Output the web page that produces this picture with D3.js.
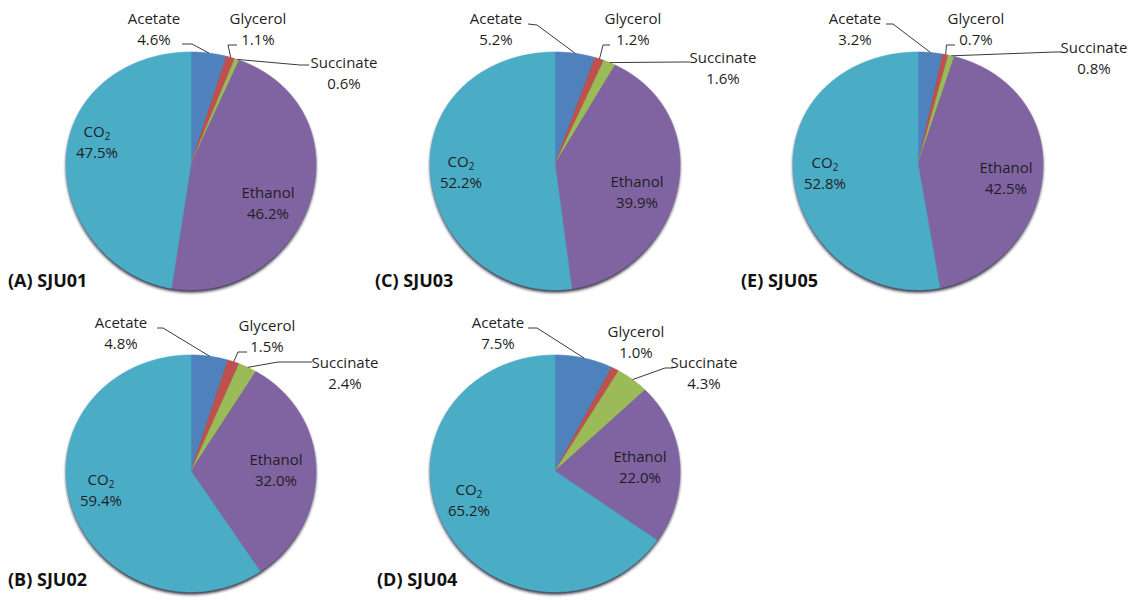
<!DOCTYPE html>
<html>
<head>
<meta charset="utf-8">
<script src="https://cdn.jsdelivr.net/npm/d3@7"></script>
<style>
  html, body { margin: 0; background: #fff; }
  svg { display: block; }
</style>
</head>
<body>
<svg id="chart" width="1137" height="600"></svg>
<script>
// Fermentation product distribution (% of carbon) per strain
const categories = ["Acetate", "Glycerol", "Succinate", "Ethanol", "CO2"];
const samples = ["(A) SJU01", "(B) SJU02", "(C) SJU03", "(D) SJU04", "(E) SJU05"];
const acetate   = [4.6, 4.8, 5.2, 7.5, 3.2];
const glycerol  = [1.1, 1.5, 1.2, 1.0, 0.7];
const succinate = [0.6, 2.4, 1.6, 4.3, 0.8];
const ethanol   = [46.2, 32.0, 39.9, 22.0, 42.5];
const co2       = [47.5, 59.4, 52.2, 65.2, 52.8];

const colors = ["#4f81bd", "#c0504d", "#9bbb59", "#8064a2", "#4bacc6"];

// Panel placement: pie centre, radii (horizontal, upper, lower), title spot,
// and for each category the label anchor (centre x, first baseline) plus
// the leader-line bend points (leader starts on the slice rim).
const panelLayout = [
  { cx: 191, cy: 164, rx: 125, up: 112, down: 126, title: [8, 287],
    labels: [
      { x: 154, y: 24, leader: [[192, 44], [182, 44]] },
      { x: 258, y: 24, leader: [[228, 45], [237, 45]] },
      { x: 344, y: 68, leader: [[300, 65], [309, 65]] },
      { x: 268, y: 198 },
      { x: 97,  y: 137 }
    ] },
  { cx: 191, cy: 471, rx: 125, up: 116, down: 121, title: [8, 586],
    labels: [
      { x: 121, y: 328, leader: [[163, 328], [157, 328]] },
      { x: 267, y: 331, leader: [[238, 352], [247, 352]] },
      { x: 345, y: 368, leader: [[278, 362], [312, 362]] },
      { x: 276, y: 465 },
      { x: 101, y: 485 }
    ] },
  { cx: 555, cy: 164, rx: 125, up: 112, down: 126, title: [375, 287],
    labels: [
      { x: 496, y: 24, leader: [[537, 25], [528, 24]] },
      { x: 633, y: 24, leader: [[603, 45], [610, 45]] },
      { x: 723, y: 63, leader: [[680, 62], [690, 62]] },
      { x: 637, y: 187 },
      { x: 461, y: 167 }
    ] },
  { cx: 555, cy: 471, rx: 125, up: 116, down: 121, title: [377, 586],
    labels: [
      { x: 498, y: 328, leader: [[537, 328], [528, 328]] },
      { x: 636, y: 337 },
      { x: 704, y: 368, leader: [[665, 368], [673, 368]] },
      { x: 640, y: 462 },
      { x: 469, y: 495 }
    ] },
  { cx: 918, cy: 164, rx: 125, up: 112, down: 126, title: [741, 287],
    labels: [
      { x: 855, y: 24, leader: [[893, 24], [886, 24]] },
      { x: 976, y: 24, leader: [[946.5, 45], [955, 45]] },
      { x: 1094, y: 53, leader: [[1055, 52], [1062, 52]] },
      { x: 1006, y: 173 },
      { x: 825, y: 168 }
    ] }
];

const svg = d3.select("#chart");
const fmt = d3.format(".1f");
const labelFont = "'Open Sans', 'DejaVu Sans', sans-serif";

const defs = svg.append("defs");
defs.append("filter").attr("id", "rimShadow")
  .attr("x", "-10%").attr("y", "-10%").attr("width", "120%").attr("height", "130%")
  .append("feGaussianBlur").attr("stdDeviation", 1.6);

const pie = d3.pie().sort(null).value(d => d.value);
const line = d3.line();

// Map an angle (clockwise from 12 o'clock) onto the tilted pie outline.
function rim(p, a, k = 1) {
  const u = Math.sin(a), v = -Math.cos(a);
  const A = (p.up + p.down) / 2, B = (p.down - p.up) / 2;
  return [p.cx + p.rx * u * k, p.cy + (A * v + B * v * v) * k];
}

function arcPoints(p, a0, a1) {
  const n = Math.max(2, Math.ceil((a1 - a0) / 0.01));
  return d3.range(n + 1).map(i => rim(p, a0 + (a1 - a0) * i / n));
}

samples.forEach((name, i) => {
  const p = panelLayout[i];
  const values = [acetate[i], glycerol[i], succinate[i], ethanol[i], co2[i]];
  const data = categories.map((c, j) => ({ cat: c, value: values[j], color: colors[j], lay: p.labels[j] }));
  const arcs = pie(data);
  const g = svg.append("g");

  // soft dark rim under the lower edge
  g.append("path")
    .attr("d", line(arcPoints(p, 0, 2 * Math.PI)) + "Z")
    .attr("transform", "translate(0,2.5)")
    .attr("fill", "#1c1a30")
    .attr("opacity", 0.9)
    .attr("filter", "url(#rimShadow)");

  g.selectAll("path.slice").data(arcs).join("path")
    .attr("class", "slice")
    .attr("d", d => line([[p.cx, p.cy], ...arcPoints(p, d.startAngle, d.endAngle)]) + "Z")
    .attr("fill", d => d.data.color)
    .attr("stroke", d => d.data.color)
    .attr("stroke-width", 0.6);

  // leader lines
  arcs.forEach(d => {
    const lay = d.data.lay;
    if (!lay.leader) return;
    const mid = (d.startAngle + d.endAngle) / 2;
    g.append("path")
      .attr("d", line([rim(p, mid), ...lay.leader]))
      .attr("fill", "none")
      .attr("stroke", "#3a3a3a")
      .attr("stroke-width", 1);
  });

  // two-line labels: name, value
  arcs.forEach(d => {
    const lay = d.data.lay;
    const t1 = g.append("text")
      .attr("x", lay.x).attr("y", lay.y)
      .attr("text-anchor", "middle")
      .attr("font-family", labelFont).attr("font-size", 15)
      .attr("fill", "#1f1f1f");
    if (d.data.cat === "CO2") {
      t1.append("tspan").text("CO");
      t1.append("tspan").attr("font-size", 10).attr("dy", 3).text("2");
    } else {
      t1.text(d.data.cat);
    }
    g.append("text")
      .attr("x", lay.x).attr("y", lay.y + 21)
      .attr("text-anchor", "middle")
      .attr("font-family", labelFont).attr("font-size", 15)
      .attr("fill", "#1f1f1f")
      .text(fmt(d.data.value) + "%");
  });

  g.append("text")
    .attr("x", p.title[0]).attr("y", p.title[1])
    .attr("font-family", labelFont).attr("font-size", 18).attr("font-weight", 700)
    .attr("fill", "#111")
    .text(name);
});
</script>
</body>
</html>
